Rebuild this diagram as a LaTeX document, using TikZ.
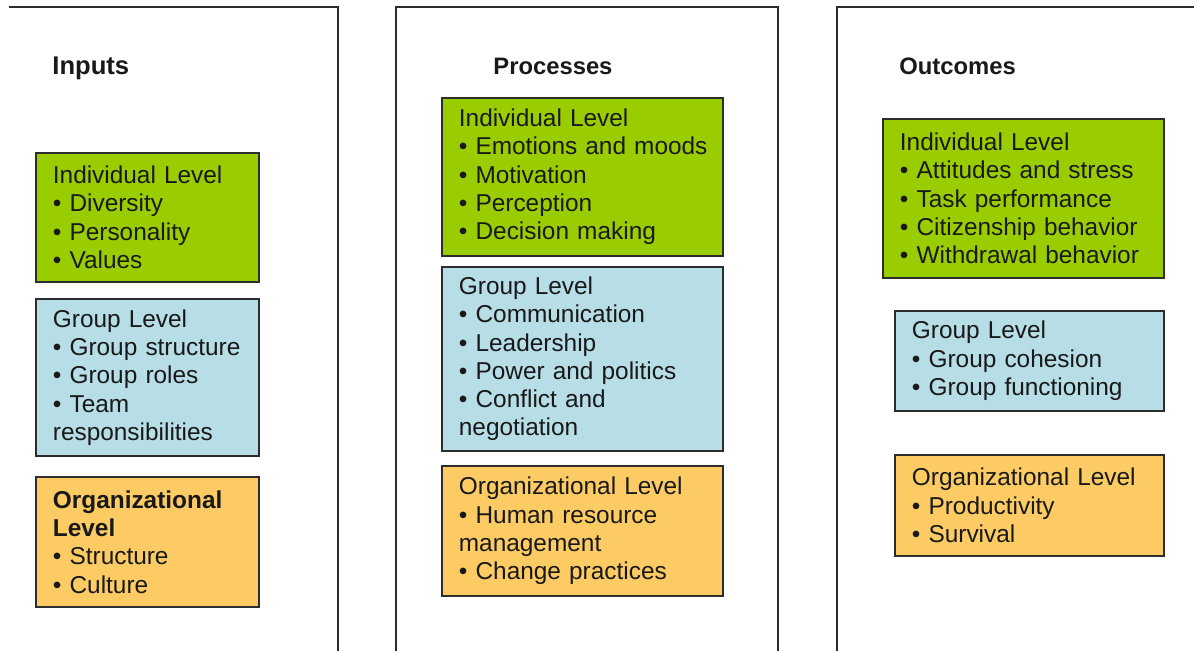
\documentclass[tikz,border=0pt]{standalone}
\usepackage{fontspec}
\setmainfont{Liberation Sans}
\begin{document}
\definecolor{lvlgreen}{RGB}{154,205,0}
\definecolor{lvlblue}{RGB}{183,221,230}
\definecolor{lvlorange}{RGB}{253,203,100}
\definecolor{rulegray}{RGB}{45,45,45}
\definecolor{inkdark}{RGB}{25,25,25}
\newcommand{\bl}[1]{\mbox{#1}}
\begin{tikzpicture}[x=0.5pt,y=-0.5pt,
  panelrule/.style={draw=rulegray,line width=1pt},
  title/.style={anchor=base west,inner sep=0pt,font=\bfseries\fontsize{11.9}{14}\selectfont,text=inkdark},
  levelbox/.style={draw=rulegray,line width=0.9pt,anchor=north west,align=left,
    inner xsep=8.5pt,inner ysep=0pt,text=inkdark,
    font=\fontsize{12.2}{14.15}\selectfont},
  wbox/.style={text width=#1*0.5pt-17pt,minimum width=#1*0.5pt},
  hbox/.style={minimum height=#1*0.5pt},
  indiv/.style={levelbox,fill=lvlgreen},
  grp/.style={levelbox,fill=lvlblue},
  org/.style={levelbox,fill=lvlorange}]
\useasboundingbox (0,0) rectangle (1198,651);

% column frames
\draw[panelrule] (9,7.5) -- (337.5,7.5) -- (337.5,651);
\draw[panelrule] (396,651) -- (396,7.5) -- (778,7.5) -- (778,651);
\draw[panelrule] (1194,7.5) -- (837,7.5) -- (837,651);

% column headings
\node[title,font=\bfseries\fontsize{12.8}{15}\selectfont] (tin) at (52,75) {Inputs};
\node[title] (tproc) at (493,75) {Processes};
\node[title] (tout) at (899,75) {Outcomes};

% inputs
\node[indiv,wbox=223,hbox=129] (inind) at (35,152)
  {\bl{Individual Level}\\\bl{• Diversity}\\\bl{• Personality}\\\bl{• Values}};
\node[grp,wbox=223,hbox=157] (ingrp) at (35,298)
  {\bl{Group Level}\\\bl{• Group structure}\\\bl{• Group roles}\\\bl{• Team}\\\bl{responsibilities}};
\node[org,wbox=223,hbox=130] (inorg) at (35,476)
  {\bl{\bfseries Organizational}\\\bl{\bfseries Level}\\\bl{• Structure}\\\bl{• Culture}};

% processes
\node[indiv,wbox=281,hbox=158] (prind) at (441,97)
  {\bl{Individual Level}\\\bl{• Emotions and moods}\\\bl{• Motivation}\\\bl{• Perception}\\\bl{• Decision making}};
\node[grp,wbox=281,hbox=184] (prgrp) at (441,266)
  {\bl{Group Level}\\\bl{• Communication}\\\bl{• Leadership}\\\bl{• Power and politics}\\\bl{• Conflict and}\\\bl{negotiation}};
\node[org,wbox=281,hbox=130] (prorg) at (441,465)
  {\bl{Organizational Level}\\\bl{• Human resource}\\\bl{management}\\\bl{• Change practices}};

% outcomes
\node[indiv,wbox=281,hbox=159] (ouind) at (882,118)
  {\bl{Individual Level}\\\bl{• Attitudes and stress}\\\bl{• Task performance}\\\bl{• Citizenship behavior}\\\bl{• Withdrawal behavior}};
\node[grp,wbox=269,hbox=100] (ougrp) at (894,310)
  {\bl{Group Level}\\\bl{• Group cohesion}\\\bl{• Group functioning}};
\node[org,wbox=269,hbox=101] (ouorg) at (894,454)
  {\bl{Organizational Level}\\\bl{• Productivity}\\\bl{• Survival}};
\end{tikzpicture}
\end{document}
